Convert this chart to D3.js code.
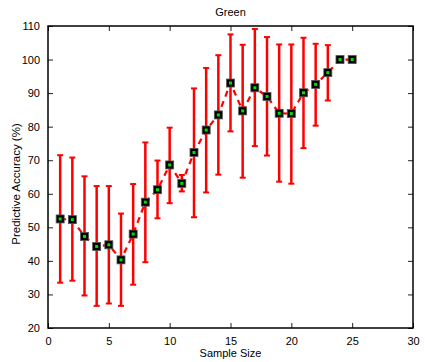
<!DOCTYPE html>
<html><head><meta charset="utf-8">
<script src="https://cdn.jsdelivr.net/npm/d3@7"></script>
<style>body{margin:0;background:#fff}svg{display:block}text{font-family:"Liberation Sans",Arial,sans-serif;fill:#000}</style>
</head><body>
<script>
const sampleSize = [1,2,3,4,5,6,7,8,9,10,11,12,13,14,15,16,17,18,19,20,21,22,23,24,25];
const accuracy = [52.5,52.3,47.3,44.3,44.8,40.3,48,57.5,61.2,68.6,63.1,72.3,79,83.5,93,84.7,91.6,89,84,83.9,90.1,92.6,96.1,100,100];
const errUpper = [71.5,70.8,65.2,62.3,62.3,54.1,62.9,75.3,69.9,79.7,65.6,91.4,97.5,101.3,107.5,104.4,109.1,106.7,104.5,104.5,106.5,104.7,104.3,100,100];
const errLower = [33.5,34.1,29.7,26.6,27.3,26.6,32.9,39.6,52.7,57.2,60.7,53,60.4,65.7,78.6,64.8,74.2,71.4,63.6,63,73.6,80.3,87.8,100,100];
const xTicks = [0,5,10,15,20,25,30];
const yTicks = [20,30,40,50,60,70,80,90,100,110];
const title = "Green", xLabel = "Sample Size", yLabel = "Predictive Accuracy (%)";

const W=425,H=362, L=48,R=413,T=26,B=328;
const svg=d3.select("body").append("svg").attr("width",W).attr("height",H);
const x=d3.scaleLinear().domain([0,30]).range([L,R]);
const y=d3.scaleLinear().domain([20,110]).range([B,T]);
const data=sampleSize.map((s,i)=>({s,a:accuracy[i],hi:errUpper[i],lo:errLower[i]}));

const fmt=d3.format("d");
const gx=svg.append("g").attr("transform",`translate(0,${B})`).call(d3.axisBottom(x).tickValues(xTicks).tickSize(-5).tickPadding(9).tickFormat(fmt));
const gxt=svg.append("g").attr("transform",`translate(0,${T})`).call(d3.axisTop(x).tickValues(xTicks).tickSize(-5).tickFormat(""));
const gy=svg.append("g").attr("transform",`translate(${L},0)`).call(d3.axisLeft(y).tickValues(yTicks).tickSize(-5).tickPadding(8).tickFormat(fmt));
const gyr=svg.append("g").attr("transform",`translate(${R},0)`).call(d3.axisRight(y).tickValues(yTicks).tickSize(-5).tickFormat(""));
[gx,gxt,gy,gyr].forEach(g=>{g.select(".domain").remove();g.selectAll("line").attr("stroke","#222").attr("stroke-width",1);g.selectAll("text").style("font-size","11px").style("font-family","Liberation Sans, Arial, sans-serif");});
svg.append("rect").attr("x",L).attr("y",T).attr("width",R-L).attr("height",B-T).attr("fill","none").attr("stroke","#000").attr("stroke-width",1.5);

const eb=data.filter(d=>d.hi!==d.lo);
svg.append("g").selectAll("line").data(eb).join("line")
 .attr("x1",d=>x(d.s)).attr("x2",d=>x(d.s)).attr("y1",d=>y(d.lo)).attr("y2",d=>y(d.hi))
 .attr("stroke","#ff0000").attr("stroke-width",2.5);
["hi","lo"].forEach(k=>{
 svg.append("g").selectAll("line").data(eb).join("line")
  .attr("x1",d=>x(d.s)-3).attr("x2",d=>x(d.s)+3).attr("y1",d=>y(d[k])).attr("y2",d=>y(d[k]))
  .attr("stroke","#ff0000").attr("stroke-width",2);
});
svg.append("path").datum(data).attr("fill","none").attr("stroke","#ff0000").attr("stroke-width",2.2)
 .attr("stroke-dasharray","6,5").attr("d",d3.line().x(d=>x(d.s)).y(d=>y(d.a)));
svg.append("g").selectAll("rect").data(data).join("rect")
 .attr("x",d=>x(d.s)-4).attr("y",d=>y(d.a)-4).attr("width",8).attr("height",8)
 .attr("fill","#000").attr("stroke","#555").attr("stroke-width",0.8);
svg.append("g").selectAll("rect").data(data).join("rect")
 .attr("x",d=>x(d.s)-1.5).attr("y",d=>y(d.a)-1.5).attr("width",3).attr("height",3).attr("fill","#00e000");

svg.append("text").attr("x",(L+R)/2).attr("y",16).attr("text-anchor","middle").style("font-size","11px").text(title);
svg.append("text").attr("x",(L+R)/2).attr("y",357).attr("text-anchor","middle").style("font-size","11px").text(xLabel);
svg.append("text").attr("transform",`translate(20,184) rotate(-90)`).attr("text-anchor","middle").style("font-size","11.5px").text(yLabel);
</script>
</body></html>
